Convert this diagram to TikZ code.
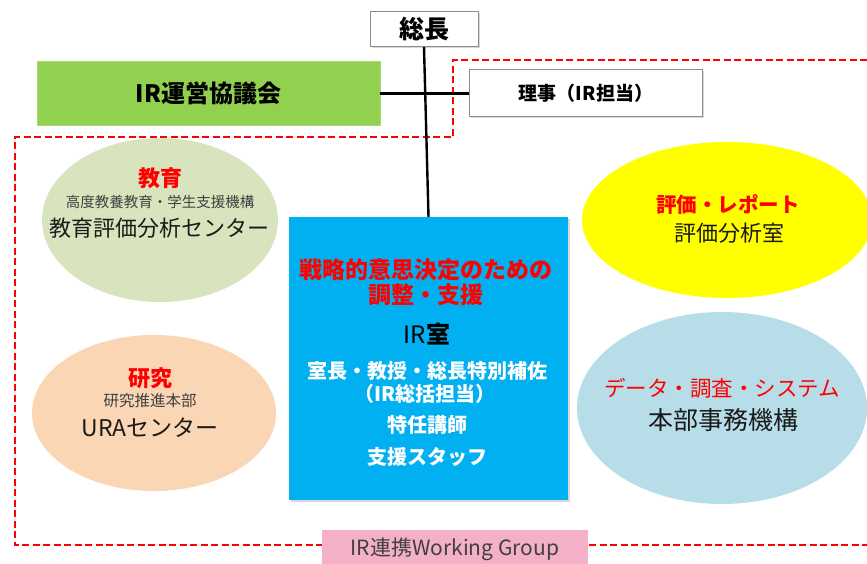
\documentclass[tikz,border=0pt]{standalone}
\usepackage{fontspec}
\setmainfont{Noto Sans CJK JP}
\usetikzlibrary{shapes.geometric,shadows}
\definecolor{irgreen}{HTML}{92D050}
\definecolor{irblue}{HTML}{00B0F0}
\definecolor{edugreen}{HTML}{D7E4BD}
\definecolor{respeach}{HTML}{FAD6B4}
\definecolor{evalyellow}{HTML}{FFFF00}
\definecolor{datablue}{HTML}{B7DEE8}
\definecolor{wgpink}{HTML}{F4B0C8}
\definecolor{txtdark}{HTML}{1A1A1A}
\definecolor{txtgray}{HTML}{404040}
\definecolor{boxgray}{HTML}{8C8C8C}
\tikzset{
  fs/.style={font=\fontsize{#1}{#1}\selectfont},
  fsb/.style={font=\fontsize{#1}{#1}\selectfont\bfseries},
  plainbox/.style={draw=boxgray, line width=1pt, fill=white, inner sep=0pt,
    drop shadow={shadow xshift=1.5pt, shadow yshift=-1.5pt, opacity=0.3}},
  blob/.style={ellipse, draw=none, inner sep=0pt},
  lbl/.style={inner sep=0pt, anchor=center},
  redhead/.style={lbl, text=red, font=\fontsize{#1}{#1}\selectfont\bfseries},
  whitebold/.style={lbl, text=white, font=\fontsize{20}{20}\selectfont\bfseries},
  conn/.style={line width=2.4pt, black},
  groupline/.style={red, line width=2.6pt, dash pattern=on 7pt off 3.5pt},
}
\begin{document}
\begin{tikzpicture}[x=1pt,y=-1pt]
\useasboundingbox (0,0) rectangle (867,564);
\fill[white] (0,0) rectangle (867,564);

% dashed group boundary
\draw[groupline] (867,60) -- (453,60) -- (453,137) -- (15,137) -- (15,545) -- (867,545);

% ellipses
\node[blob, fill=edugreen, minimum width=236pt, minimum height=164pt] (edu) at (160,220) {};
\node[blob, fill=respeach, minimum width=244pt, minimum height=156pt] (res) at (154,413) {};
\node[blob, fill=evalyellow, minimum width=290pt, minimum height=156pt] (eval) at (727,220) {};
\node[blob, fill=datablue, minimum width=290pt, minimum height=192pt] (data) at (722,408) {};

% top boxes
\node[plainbox, minimum width=108pt, minimum height=35pt] (pres) at (424,29) {};
\node[lbl, fsb=25] (prest) at (pres.center) {総長};
\node[fill=irgreen, draw=irgreen!80!white, line width=0.6pt, minimum width=343pt, minimum height=64pt, inner sep=0pt] (council) at (208.5,93.5) {};
\node[lbl, fsb=24] (councilt) at (council.center) {IR運営協議会};
\node[plainbox, minimum width=233pt, minimum height=47pt] (exec) at (586,93.5) {};
\node[lbl, fsb=19] (exect) at (exec.center) {理事（IR担当）};

% IR office
\node[fill=irblue, minimum width=279pt, minimum height=283pt, inner sep=0pt,
  drop shadow={shadow xshift=2pt, shadow yshift=-2pt, opacity=0.3}] (ir) at (428.5,358.5) {};

% connectors
\draw[conn] (council.east) -- (exec.west);
\draw[conn] (pres.south) -- (ir.north);

% pink working group box
\node[fill=wgpink, minimum width=266pt, minimum height=40pt, inner sep=0pt] (wg) at (455,550) {};
\node[lbl, fs=21, text=txtgray] (wgt) at (455,549) {IR連携Working Group};

% texts: education
\node[redhead=22] (edu1) at (160,178) {教育};
\node[lbl, fs=14.5, text=txtgray] (edu2) at (160,202) {高度教養教育・学生支援機構};
\node[lbl, fs=22, text=txtdark] (edu3) at (159,228) {教育評価分析センター};

% texts: research
\node[redhead=22] (res1) at (150,378) {研究};
\node[lbl, fs=15.5, text=txtgray] (res2) at (150,401) {研究推進本部};
\node[lbl, fs=23, text=txtdark] (res3) at (150,428) {URAセンター};

% texts: evaluation
\node[redhead=20.5] (eval1) at (728,205) {評価・レポート};
\node[lbl, fs=22, text=txtdark] (eval2) at (729,233) {評価分析室};

% texts: data
\node[lbl, fs=21.5, text=red] (data1) at (722,388) {データ・調査・システム};
\node[lbl, fs=25, text=txtdark] (data2) at (723,420) {本部事務機構};

% texts: IR office
\node[redhead=23] (ir1) at (426,270) {戦略的意思決定のための};
\node[redhead=23] (ir2) at (426,295) {調整・支援};
\node[lbl, fs=24, text=black] (ir3) at (427,334) {IR\textbf{室}};
\node[whitebold] (ir4) at (427,371) {室長・教授・総長特別補佐};
\node[whitebold] (ir5) at (425,394) {（IR総括担当）};
\node[whitebold] (ir6) at (427,425) {特任講師};
\node[whitebold] (ir7) at (427,457) {支援スタッフ};
\end{tikzpicture}
\end{document}
